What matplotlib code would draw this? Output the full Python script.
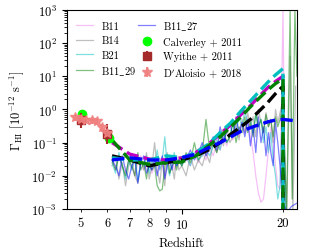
import matplotlib
matplotlib.use("Agg")
import matplotlib.pyplot as plt

plt.rcParams.update({
    "font.family": "serif",
    "font.serif": ["cmr10", "DejaVu Serif"],
    "mathtext.fontset": "cm",
    "axes.formatter.use_mathtext": True,
    "font.size": 9,
})

# ---- simulation grid ----
z_sim = [6.2, 6.35, 6.5, 6.65, 6.8, 6.95, 7.1, 7.25, 7.4, 7.55, 7.7, 7.85, 8.0, 8.15, 8.3,
         8.45, 8.6, 8.75, 8.9, 9.05, 9.2, 9.35, 9.5, 9.65, 9.8, 10.0,
         10.3, 10.6, 10.9, 11.2, 11.5, 11.8, 12.1, 12.4, 12.7, 13.0, 13.3, 13.6, 13.9,
         14.2, 14.5, 14.8, 15.1, 15.4, 15.7, 16.0, 16.3, 16.6, 16.9, 17.2, 17.5, 17.8,
         18.1, 18.4, 18.7, 19.0, 19.3, 19.6, 20.0]

g_B11 = [0.03, 0.015, 0.04, 0.02, 0.012, 0.03, 0.018, 0.01, 0.025, 0.04, 0.015, 0.02, 0.03,
         0.012, 0.02, 0.035, 0.015, 0.025, 0.01, 0.03, 0.02, 0.04, 0.015, 0.025, 0.03, 0.02,
         0.035, 0.02, 0.045, 0.025, 0.05, 0.03, 0.07, 0.04, 0.1, 0.06, 0.15, 0.08, 0.2, 0.12,
         0.3, 0.15, 0.4, 0.2, 0.5, 0.15, 0.05, 0.01, 0.003, 0.0016, 0.002, 0.01, 0.06, 0.3,
         0.1, 0.02, 0.005, 0.004, 1000]
g_B14 = [0.02, 0.04, 0.008, 0.025, 0.005, 0.02, 0.035, 0.01, 0.006, 0.03, 0.015, 0.05, 0.008,
         0.02, 0.1, 0.015, 0.006, 0.03, 0.005, 0.05, 0.012, 0.02, 0.008, 0.04, 0.015, 0.02,
         0.01, 0.04, 0.015, 0.03, 0.02, 0.05, 0.025, 0.1, 0.05, 0.2, 0.08, 0.3, 0.1, 0.15,
         0.4, 0.12, 0.5, 0.2, 0.8, 0.3, 0.6, 0.15, 1.0, 0.4, 0.2, 0.8, 0.3, 0.5, 0.1, 1.0,
         0.4, 0.8, 2.0]
g_B21 = [0.025, 0.012, 0.05, 0.02, 0.008, 0.03, 0.015, 0.04, 0.007, 0.025, 0.02, 0.04, 0.012,
         0.03, 0.02, 0.06, 0.015, 0.03, 0.15, 0.02, 0.01, 0.03, 0.05, 0.02, 0.03, 0.02,
         0.04, 0.02, 0.05, 0.03, 0.04, 0.06, 0.04, 0.08, 0.12, 0.06, 0.2, 0.1, 0.15, 0.4,
         0.2, 0.6, 0.3, 0.9, 0.4, 0.5, 0.2, 0.7, 0.3, 0.5, 0.1, 0.3, 0.05, 0.2, 0.03, 0.01,
         0.002, 0.005, 5.0]
g_B11_29 = [0.03, 0.015, 0.04, 0.02, 0.01, 0.03, 0.02, 0.01, 0.05, 0.015, 0.025, 0.008, 0.03,
            0.015, 0.02, 0.005, 0.0035, 0.004, 0.02, 0.04, 0.012, 0.02, 0.03, 0.015, 0.03, 0.02,
            0.05, 0.025, 0.1, 0.03, 0.05, 0.5, 0.06, 0.1, 0.05, 0.1, 0.25, 0.1, 0.15, 0.4,
            0.1, 0.3, 0.2, 0.6, 0.2, 0.4, 0.15, 0.8, 0.3, 0.5, 0.2, 0.7, 0.3, 0.5, 0.15, 0.6,
            0.3, 0.5, 1.5]
g_B11_27 = [0.03, 0.02, 0.01, 0.04, 0.015, 0.008, 0.02, 0.03, 0.006, 0.025, 0.04, 0.012, 0.02,
            0.015, 0.03, 0.01, 0.025, 0.04, 0.008, 0.02, 0.03, 0.015, 0.04, 0.02, 0.03, 0.025,
            0.03, 0.06, 0.03, 0.05, 0.1, 0.04, 0.07, 0.15, 0.06, 0.3, 0.12, 0.2, 0.4, 0.15,
            0.6, 0.2, 0.4, 0.15, 0.5, 0.08, 0.3, 0.05, 0.6, 0.1, 0.3, 0.04, 0.2, 0.05, 0.02,
            0.4, 0.1, 0.02, 0.0015]

# high-z tails beyond z=20
z_tail_B11 = [20.3]
g_tail_B11 = [0.0008]
z_tail_B14 = [20.5, 21.0, 21.4, 21.8]
g_tail_B14 = [0.0008, 40.0, 0.0008, 5.0]
z_tail_B21 = [20.4]
g_tail_B21 = [0.0008]
z_tail_B11_29 = [20.5, 21.0, 21.3, 21.7, 22.0]
g_tail_B11_29 = [0.0008, 1000, 0.002, 1000, 10.0]
z_tail_B11_27 = [20.6, 21.2, 22.0]
g_tail_B11_27 = [0.0008, 0.0012, 0.0015]

# ---- smooth fits (dashed) ----
z_fit = [6.2, 7, 8, 9, 10, 11, 12, 13, 14, 15, 16, 17, 18, 19, 20]
f_B11 = [0.1, 0.045, 0.032, 0.03, 0.035, 0.05, 0.09, 0.18, 0.35, 0.7, 1.3, 2.5, 4.5, 7.0, 10.0]
f_B14 = [0.04, 0.03, 0.02, 0.025, 0.03, 0.04, 0.06, 0.1, 0.18, 0.3, 0.5, 0.9, 1.6, 3.0, 5.0]
f_B21 = [0.035, 0.03, 0.03, 0.04, 0.035, 0.05, 0.09, 0.2, 0.4, 0.9, 1.8, 3.5, 6.5, 11.0, 17.0]
f_B11_29 = [0.12, 0.03, 0.022, 0.025, 0.026, 0.04, 0.08, 0.15, 0.3, 0.6, 1.2, 2.2, 3.8, 6.0, 8.5]
f_B11_27 = [0.03, 0.035, 0.03, 0.03, 0.035, 0.045, 0.07, 0.1, 0.15, 0.22, 0.28, 0.35, 0.42, 0.48, 0.5]
z_fit_tail_27 = [22]
f_tail_27 = [0.45]

# ---- observations ----
z_cal = [5.04, 6.09]
g_cal = [0.71, 0.14]
z_wy = [5.0, 6.0]
g_wy = [0.47, 0.18]
e_wy_lo = [0.2, 0.09]
e_wy_hi = [0.3, 0.18]
z_da = [4.8, 5.0, 5.2, 5.4, 5.6, 5.8, 6.0]
g_da = [0.58, 0.53, 0.48, 0.47, 0.45, 0.29, 0.2]
e_da = [0.12, 0.1, 0.1, 0.1, 0.1, 0.08, 0.06]

fig = plt.figure(figsize=(3.31, 2.53), dpi=100)
ax = fig.add_axes([0.202, 0.170, 0.695, 0.787])

series = [
    ("B11", g_B11, z_tail_B11, g_tail_B11, f_B11, "violet", "m"),
    ("B14", g_B14, z_tail_B14, g_tail_B14, f_B14, "gray", "k"),
    ("B21", g_B21, z_tail_B21, g_tail_B21, f_B21, "c", "c"),
    (r"B11$\_$29", g_B11_29, z_tail_B11_29, g_tail_B11_29, f_B11_29, "g", "g"),
    (r"B11$\_$27", g_B11_27, z_tail_B11_27, g_tail_B11_27, f_B11_27, "b", "b"),
]
for name, g, zt, gt, f, col, fcol in series:
    ax.plot(z_sim + zt, g + gt, color=col, lw=0.9, alpha=0.5, label=name)

for i, (name, g, zt, gt, f, col, fcol) in enumerate(series):
    if i == 4:
        ax.plot(z_fit + z_fit_tail_27, f + f_tail_27, ls="--", color=fcol, lw=2.4)
    else:
        ax.plot(z_fit + [20.0], f + [1e-4], ls="--", color=fcol, lw=2.4)

ax.plot(z_cal, g_cal, "o", color="lime", ms=6, label="Calverley + 2011")
ax.errorbar(z_wy, g_wy, yerr=[e_wy_lo, e_wy_hi], fmt="s", color="brown", ms=6,
            capsize=0, label="Wyithe + 2011")
ax.errorbar(z_da, g_da, yerr=e_da, fmt="*", color="lightcoral", ms=7, capsize=0,
            alpha=0.9, label=r"D$'$Aloisio + 2018")

ax.set_xscale("log")
ax.set_yscale("log")
ax.set_xlim(4.55, 22.0)
ax.set_ylim(1e-3, 1e3)
ax.set_xticks([10], labels=["10"])
ax.set_xticks([5, 6, 7, 8, 9, 20], labels=["5", "6", "7", "8", "9", "20"], minor=True)
ax.set_xlabel("Redshift")
ax.set_ylabel(r"$\Gamma_{\rm HI}\ [10^{-12}\ {\rm s^{-1}}]$")

ax.legend(loc="upper left", ncol=2, fontsize=7.5, frameon=False, handlelength=1.6,
          handletextpad=0.8, columnspacing=0.2, borderaxespad=0.5, labelspacing=0.45)

fig.savefig("out.png", dpi=100)
